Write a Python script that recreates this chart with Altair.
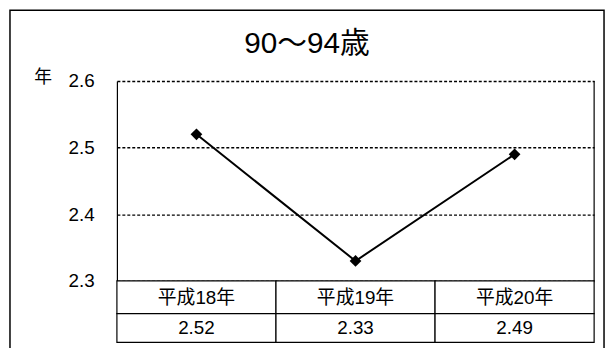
import altair as alt
import pandas as pd

title_text = "90〜94歳"
unit_label = "年"
categories = ["平成18年", "平成19年", "平成20年"]
values = [2.52, 2.33, 2.49]
value_labels = ["2.52", "2.33", "2.49"]
y_ticks = [2.3, 2.4, 2.5, 2.6]

FONT = "Liberation Sans, Arial, Noto Sans CJK JP"

df = pd.DataFrame({"cat": categories, "val": values, "lab": value_labels})
one = pd.DataFrame({"t": [title_text]})

W, H = 482, 202

x_point = alt.X("cat:N", sort=categories, axis=None,
                scale=alt.Scale(type="point", padding=0.5))
x_band = alt.X("cat:N", sort=categories, axis=None,
               scale=alt.Scale(type="band", paddingInner=0, paddingOuter=0))
y_enc = alt.Y("val:Q",
              scale=alt.Scale(domain=[2.3, 2.6], zero=False, nice=False),
              axis=alt.Axis(values=y_ticks, format=".1f", ticks=False,
                            domain=True, domainColor="black", domainWidth=1.2,
                            grid=True, gridColor="black", gridDash=[3, 2],
                            gridWidth=1.5, gridOpacity=1, labelFont=FONT,
                            labelFontSize=19, labelColor="black",
                            labelPadding=23,
                            title=unit_label, titleAngle=0, titleX=-75,
                            titleY=-3, titleAlign="center",
                            titleBaseline="middle", titleFont=FONT,
                            titleFontSize=18, titleFontWeight="normal",
                            titleColor="black"))

frame = alt.Chart(one).mark_rect(filled=False, color="black", strokeWidth=1.5).encode(
    x=alt.value(-108), x2=alt.value(492), y=alt.value(-71.5), y2=alt.value(400))

title = alt.Chart(one).mark_text(font=FONT, fontSize=30, color="black",
                                  align="center", baseline="alphabetic").encode(
    x=alt.value(192), y=alt.value(-28), text="t:N")

right_edge = alt.Chart(one).mark_rule(color="black", strokeWidth=1.2).encode(
    x=alt.value(W), y=alt.value(0), y2=alt.value(H))

row1 = alt.Chart(df).mark_rect(fill="white", stroke="black", strokeWidth=1.2).encode(
    x=x_band, y=alt.value(H), y2=alt.value(235))
row2 = alt.Chart(df).mark_rect(fill="white", stroke="black", strokeWidth=1.2).encode(
    x=x_band, y=alt.value(235), y2=alt.value(264))
cat_text = alt.Chart(df).mark_text(font=FONT, fontSize=19, color="black",
                                   baseline="middle").encode(
    x=x_band, y=alt.value(219), text="cat:N")
val_text = alt.Chart(df).mark_text(font=FONT, fontSize=19, color="black",
                                   baseline="middle").encode(
    x=x_band, y=alt.value(250), text="lab:N")

line = alt.Chart(df).mark_line(color="black", strokeWidth=2).encode(
    x=x_point, y=y_enc)
pts = alt.Chart(df).mark_point(shape="diamond", filled=True, color="black",
                               size=140, opacity=1).encode(
    x=x_point, y=alt.Y("val:Q"))

chart = alt.layer(frame, title, line, right_edge, row1, row2, cat_text,
                  val_text, pts).resolve_scale(x="independent").properties(
    width=W, height=H,
    autosize=alt.AutoSizeParams(type="none"),
    padding={"left": 110, "top": 72, "right": 13, "bottom": 66},
    background="white",
).configure_view(stroke=None)

chart.save("out.html", embed_options={"renderer": "svg", "actions": False})
